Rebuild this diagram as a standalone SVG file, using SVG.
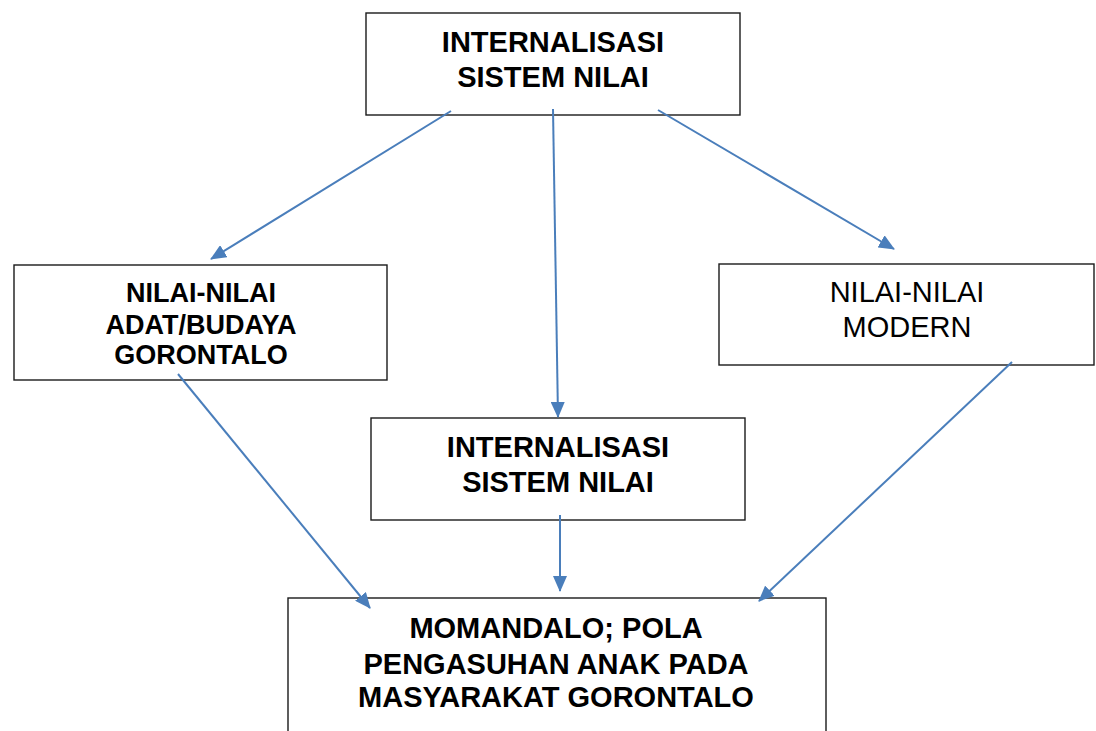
<svg xmlns="http://www.w3.org/2000/svg" width="1096" height="731" viewBox="0 0 1096 731">
<style>
.box{fill:#fff;stroke:#1a1a1a;stroke-width:1.4}
.t{font-family:"Liberation Sans",Arial,sans-serif;font-size:29px;text-anchor:middle;fill:#000}
.b{font-weight:bold}
.s{font-size:27px}
.c{stroke:#4A7EBB;stroke-width:2;fill:none;marker-end:url(#ah)}
</style>
<defs>
<marker id="ah" markerUnits="userSpaceOnUse" viewBox="0 0 16 14" markerWidth="16" markerHeight="14" refX="15" refY="7" orient="auto">
<path d="M0,0 L16,7 L0,14 z" fill="#4A7EBB"/>
</marker>
</defs>
<rect width="1096" height="731" fill="#fff"/>
<g id="n-top">
<rect class="box" x="366" y="13" width="374" height="102"/>
<text class="t b" x="553" y="52">INTERNALISASI</text>
<text class="t b" x="553" y="87">SISTEM NILAI</text>
</g>
<g id="n-adat">
<rect class="box" x="14" y="265" width="373" height="115"/>
<text class="t b s" x="201" y="302">NILAI-NILAI</text>
<text class="t b s" x="201" y="334">ADAT/BUDAYA</text>
<text class="t b s" x="201" y="364">GORONTALO</text>
</g>
<g id="n-modern">
<rect class="box" x="719" y="264" width="375" height="101"/>
<text class="t" x="907" y="302">NILAI-NILAI</text>
<text class="t" x="907" y="337">MODERN</text>
</g>
<g id="n-mid">
<rect class="box" x="371" y="418" width="374" height="102"/>
<text class="t b" x="558" y="457">INTERNALISASI</text>
<text class="t b" x="558" y="492">SISTEM NILAI</text>
</g>
<g id="n-bottom">
<rect class="box" x="288" y="598" width="538" height="160"/>
<text class="t b" x="556" y="638">MOMANDALO; POLA</text>
<text class="t b" x="556" y="674">PENGASUHAN ANAK PADA</text>
<text class="t b" x="556" y="707">MASYARAKAT GORONTALO</text>
</g>
<g id="connectors">
<line class="c" x1="451" y1="111" x2="211" y2="259"/>
<line class="c" x1="553" y1="109" x2="558" y2="417"/>
<line class="c" x1="658" y1="110" x2="894" y2="249"/>
<line class="c" x1="178" y1="374" x2="370" y2="608"/>
<line class="c" x1="560" y1="515" x2="560" y2="591"/>
<line class="c" x1="1012" y1="362" x2="759" y2="601"/>
</g>
</svg>
